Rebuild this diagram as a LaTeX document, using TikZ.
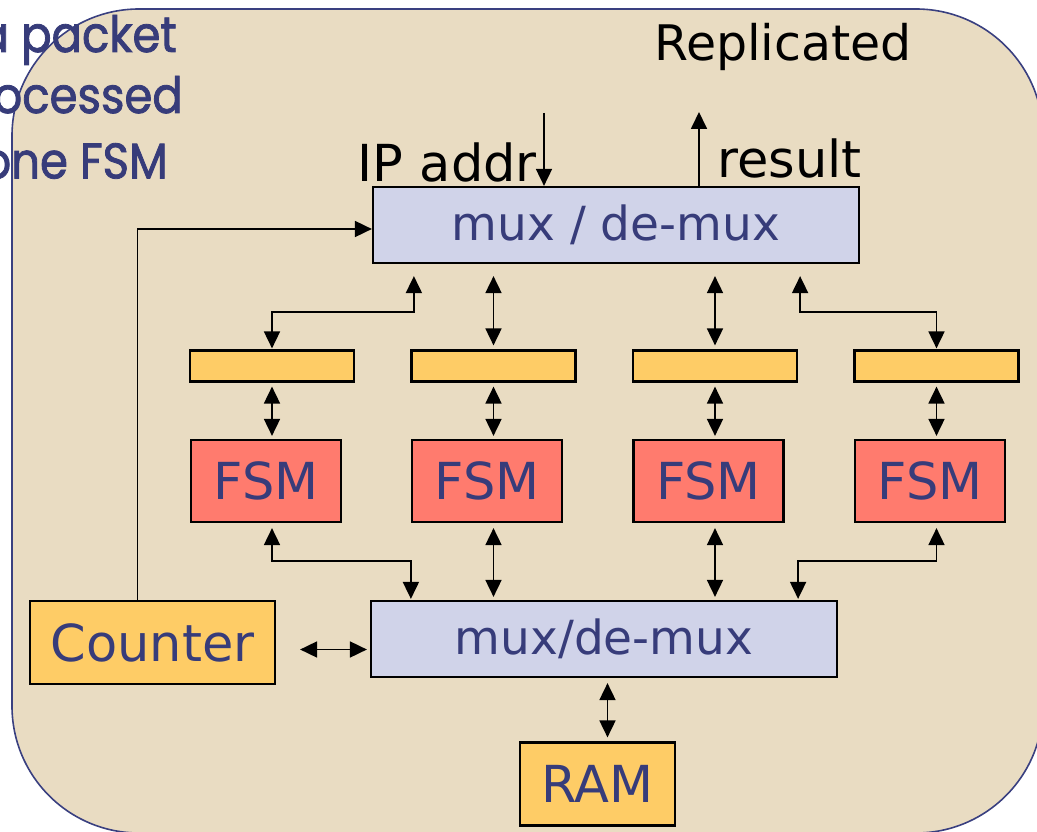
\documentclass[tikz,border=0pt]{standalone}
\usepackage{fontspec}
\setmainfont{DejaVu Sans}
\newfontfamily\handfont{Poppins}[FakeBold=1.6, FakeStretch=0.9]
\usetikzlibrary{arrows.meta}

\definecolor{panelfill}{RGB}{233,220,194}
\definecolor{panelline}{RGB}{58,64,128}
\definecolor{muxfill}{RGB}{208,211,233}
\definecolor{regfill}{RGB}{254,204,102}
\definecolor{fsmfill}{RGB}{255,123,110}
\definecolor{labelblue}{RGB}{55,60,122}

\tikzset{
  blk/.style={draw=black, line width=2.2pt, inner sep=0pt, text=labelblue,
              font=\fontsize{47}{56}\selectfont},
  muxbox/.style={blk, fill=muxfill, minimum height=76pt},
  regbox/.style={blk, fill=regfill, minimum width=164pt, minimum height=31pt},
  fsmbox/.style={blk, fill=fsmfill, minimum width=150pt, minimum height=82pt,
                 font=\fontsize{51}{58}\selectfont},
  membox/.style={blk, fill=regfill, minimum height=83pt, font=\fontsize{51}{58}\selectfont},
  tip/.style={line width=1.8pt, -{Triangle[length=17pt,width=16pt]}},
  bitip/.style={line width=1.8pt, {Triangle[length=17pt,width=16pt]}-{Triangle[length=17pt,width=16pt]}},
  plain/.style={text=black, inner sep=0pt, font=\fontsize{51}{58}\selectfont},
  hand/.style={text=labelblue, inner sep=0pt, anchor=east,
               font=\handfont\fontsize{50}{58}\selectfont}
}

\begin{document}
\begin{tikzpicture}[x=1pt, y=-1pt]
\useasboundingbox (0,0) rectangle (1037,832);
\clip (0,0) rectangle (1037,832);

% replicated region
\draw[fill=panelfill, draw=panelline, line width=1.6pt, rounded corners=127pt]
  (12,9) rectangle (1043,833);

% note in the upper left corner
\node[hand] (n1) at (177,40) {a packet};
\node[hand] (n2) at (183,101) {processed};
\node[hand] (n3) at (168,161) {one FSM};

\node[plain, font=\fontsize{49}{58}\selectfont] (repl) at (783,47) {Replicated};

% multiplexers
\node[muxbox, minimum width=486pt] (mux1) at (616,225) {mux / de-mux};
\node[muxbox, minimum width=466pt] (mux2) at (604,639) {mux/de-mux};

% registers and state machines
\node[regbox] (bar1) at (272,366) {};
\node[regbox] (bar2) at (493.5,366) {};
\node[regbox] (bar3) at (715,366) {};
\node[regbox] (bar4) at (936.5,366) {};

\node[fsmbox] (fsm1) at (266,481) {FSM};
\node[fsmbox] (fsm2) at (487,481) {FSM};
\node[fsmbox] (fsm3) at (708.5,481) {FSM};
\node[fsmbox] (fsm4) at (930,481) {FSM};

\node[membox, minimum width=245pt] (cnt) at (152.5,642.5) {Counter};
\node[membox, minimum width=155pt] (ram) at (597.5,784) {RAM};

% external ports
\coordinate (ipin) at (544,113);
\coordinate (resout) at (699,112);
\node[plain, anchor=east] (iplbl) at (537,162) {IP addr};
\node[plain, anchor=west] (reslbl) at (717,158) {result};
\draw[tip] (ipin) -- (ipin |- mux1.north);
\draw[tip] (resout |- mux1.north) -- (resout);

% counter feeds the upper multiplexer
\draw[tip] ([xshift=-15pt]cnt.north) |- ([yshift=-4pt]mux1.west);
\draw[bitip, shorten <=24pt, shorten >=3pt]
  ([yshift=-7pt]cnt.east) -- ([yshift=-7pt]cnt.east -| mux2.west);
\draw[bitip, shorten <=4pt, shorten >=5pt]
  ([xshift=10pt]ram.north) -- ([xshift=10pt]ram.north |- mux2.south);

% upper multiplexer to registers
\coordinate (u1) at ([xshift=42pt]mux1.south west);
\coordinate (u4) at ([xshift=-60pt]mux1.south east);
\draw[bitip, shorten <=12pt, shorten >=1pt] (u1) -- ++(0,48) -| (bar1.north);
\draw[bitip, shorten <=12pt, shorten >=1pt] (u4) -- ++(0,48) -| (bar4.north);
\draw[bitip, shorten <=12pt, shorten >=4pt] (bar2 |- mux1.south) -- (bar2.north);
\draw[bitip, shorten <=12pt, shorten >=4pt] (bar3 |- mux1.south) -- (bar3.north);

% registers to state machines
\foreach \i in {1,2,3,4}{
  \draw[bitip, shorten <=4pt, shorten >=3pt] (bar\i.south) -- (bar\i.south |- fsm\i.north);
}

% state machines to lower multiplexer
\coordinate (d1) at ([xshift=41pt]mux2.north west);
\coordinate (d4) at ([xshift=-40pt]mux2.north east);
\draw[bitip, shorten <=5pt, shorten >=1pt] (bar1 |- fsm1.south) -- ++(0,38) -| (d1);
\draw[bitip, shorten <=5pt, shorten >=1pt] (bar4 |- fsm4.south) -- ++(0,38) -| (d4);
\draw[bitip, shorten <=5pt, shorten >=3pt] (bar2 |- fsm2.south) -- (bar2 |- mux2.north);
\draw[bitip, shorten <=5pt, shorten >=3pt] (bar3 |- fsm3.south) -- (bar3 |- mux2.north);
\end{tikzpicture}
\end{document}
